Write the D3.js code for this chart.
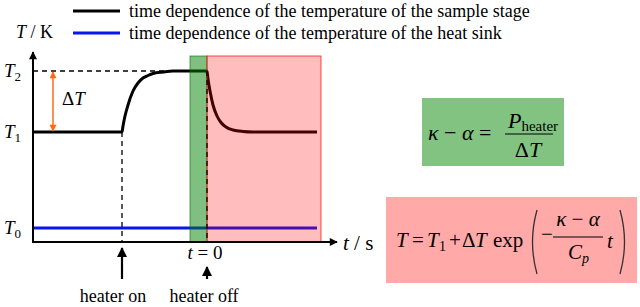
<!DOCTYPE html>
<html>
<head>
<meta charset="utf-8">
<script src="https://cdn.jsdelivr.net/npm/d3@7"></script>
<style>
  body { margin: 0; background: #fff; }
  .it { font-style: italic; }
</style>
</head>
<body>
<div id="chart"></div>
<script>
// Define SVG area dimensions
let svgWidth = 640;
let svgHeight = 307;

// Sample stage temperature (arbitrary units)
const stageTime = [0, 8.9, 9.0, 9.2, 9.5, 10.0, 10.5, 11.0, 11.5, 12.0, 13.0, 14.0, 17.4, 17.5, 17.7, 18.0, 18.4, 18.8, 19.3, 20.0, 21.0, 22.0, 28.4];
const stageTemp = [11.0, 11.0, 11.6, 12.6, 13.7, 15.1, 15.9, 16.4, 16.65, 16.85, 17.0, 17.1, 17.1, 16.3, 15.1, 13.7, 12.6, 11.95, 11.5, 11.2, 11.05, 11.0, 11.0];

// Heat sink temperature
const sinkTime = [0, 28.4];
const sinkTemp = [1.4, 1.4];

// Levels and events
const levelNames = ["T0", "T1", "T2"];
const levelValues = [1.4, 11.0, 17.1];
const eventNames = ["heater on", "heater off"];
const eventTimes = [8.9, 17.4];

// Shaded phases [start, end]
const greenPhase = [15.7, 17.4];
const pinkPhase = [17.4, 28.8];
const phaseTop = 18.6;

const legendLabels = [
  "time dependence of the temperature of the sample stage",
  "time dependence of the temperature of the heat sink"
];
const legendColors = ["#000", "#0a14f0"];

let svg = d3.select("#chart")
  .append("svg")
  .attr("width", svgWidth)
  .attr("height", svgHeight)
  .style("display", "block");

let defs = svg.append("defs");
function marker(id, color, w, h) {
  defs.append("marker")
    .attr("id", id)
    .attr("viewBox", "0 0 10 10")
    .attr("refX", 9).attr("refY", 5)
    .attr("markerUnits", "userSpaceOnUse")
    .attr("markerWidth", w).attr("markerHeight", h)
    .attr("orient", "auto-start-reverse")
    .append("path")
    .attr("d", "M0,0 L10,5 L0,10 z")
    .attr("fill", color);
}
marker("ax", "#000", 9, 8);
marker("ev", "#000", 12, 10);
marker("or", "#ff6a10", 8, 7);

// scales
let x = d3.scaleLinear().domain([0, 30.4]).range([33, 337]);
let y = d3.scaleLinear().domain([0, 19]).range([242, 52]);

let g = svg.append("g")
  .attr("font-family", "'Liberation Serif', 'DejaVu Serif', serif");

// legend
legendLabels.forEach((lab, i) => {
  let ly = 11 + i * 22;
  g.append("line")
    .attr("x1", 73).attr("x2", 120).attr("y1", ly).attr("y2", ly)
    .attr("stroke", legendColors[i]).attr("stroke-width", 3);
  g.append("text")
    .attr("x", 129).attr("y", ly + 6)
    .attr("font-size", 18)
    .text(lab);
});

// axis title T / K
let tk = g.append("text").attr("x", 16).attr("y", 38).attr("font-size", 18);
tk.append("tspan").attr("class", "it").text("T");
tk.append("tspan").text(" / K");

// dashed T2 line
g.append("line")
  .attr("x1", x(0)).attr("x2", x(eventTimes[1]))
  .attr("y1", y(levelValues[2])).attr("y2", y(levelValues[2]))
  .attr("stroke", "#000").attr("stroke-width", 1.3)
  .attr("stroke-dasharray", "5,4");

// dashed heater on line
g.append("line")
  .attr("x1", x(eventTimes[0])).attr("x2", x(eventTimes[0]))
  .attr("y1", y(levelValues[1])).attr("y2", y(0))
  .attr("stroke", "#000").attr("stroke-width", 1.3)
  .attr("stroke-dasharray", "5,4");

// curves
let line = d3.line()
  .x(d => x(d[0]))
  .y(d => y(d[1]))
  .curve(d3.curveMonotoneX);

g.append("path")
  .datum(sinkTime.map((t, i) => [t, sinkTemp[i]]))
  .attr("d", line)
  .attr("fill", "none")
  .attr("stroke", "#0a14f0")
  .attr("stroke-width", 3);

g.append("path")
  .datum(stageTime.map((t, i) => [t, stageTemp[i]]))
  .attr("d", line)
  .attr("fill", "none")
  .attr("stroke", "#000")
  .attr("stroke-width", 3);

// shaded phases
g.append("rect")
  .attr("x", x(greenPhase[0])).attr("y", y(phaseTop))
  .attr("width", x(greenPhase[1]) - x(greenPhase[0]))
  .attr("height", y(0) - y(phaseTop))
  .attr("fill", "rgba(0,128,0,0.5)")
  .attr("stroke", "rgba(0,110,0,0.6)").attr("stroke-width", 1);

g.append("rect")
  .attr("x", x(pinkPhase[0])).attr("y", y(phaseTop))
  .attr("width", x(pinkPhase[1]) - x(pinkPhase[0]))
  .attr("height", y(0) - y(phaseTop))
  .attr("fill", "rgba(255,0,0,0.26)")
  .attr("stroke", "rgba(255,0,0,0.7)").attr("stroke-width", 1);

// dashed heater off line
g.append("line")
  .attr("x1", x(eventTimes[1])).attr("x2", x(eventTimes[1]))
  .attr("y1", y(levelValues[2])).attr("y2", y(0))
  .attr("stroke", "#000").attr("stroke-width", 1.3)
  .attr("stroke-dasharray", "5,4");

// axes with arrows
g.append("line")
  .attr("x1", x(0)).attr("x2", x(0))
  .attr("y1", y(0) + 1).attr("y2", y(19))
  .attr("stroke", "#000").attr("stroke-width", 2)
  .attr("marker-end", "url(#ax)");
g.append("line")
  .attr("x1", x(0) - 1).attr("x2", x(30.4))
  .attr("y1", y(0)).attr("y2", y(0))
  .attr("stroke", "#000").attr("stroke-width", 2)
  .attr("marker-end", "url(#ax)");

// level labels
levelNames.forEach((name, i) => {
  let t = g.append("text")
    .attr("x", 4).attr("y", y(levelValues[i]) + 6)
    .attr("font-size", 19);
  t.append("tspan").attr("class", "it").text(name[0]);
  t.append("tspan").attr("font-size", 13).attr("dy", 4).text(name.slice(1));
});

// delta T arrow
g.append("line")
  .attr("x1", 53).attr("x2", 53)
  .attr("y1", y(levelValues[1]) - 1).attr("y2", y(levelValues[2]) + 1)
  .attr("stroke", "#ff6a10").attr("stroke-width", 1.5)
  .attr("marker-start", "url(#or)").attr("marker-end", "url(#or)");
let dT = g.append("text").attr("x", 62).attr("y", 105).attr("font-size", 19);
dT.append("tspan").text("Δ");
dT.append("tspan").attr("class", "it").text("T");

// t / s label
let ts = g.append("text").attr("x", 343).attr("y", 250).attr("font-size", 21);
ts.append("tspan").attr("class", "it").text("t");
ts.append("tspan").text(" / s");

// t = 0
let t0 = g.append("text").attr("x", x(eventTimes[1]) - 2).attr("y", 259)
  .attr("font-size", 19).attr("text-anchor", "middle");
t0.append("tspan").attr("class", "it").text("t");
t0.append("tspan").text(" = 0");

// event arrows and labels
const eventTips = [248, 267];
eventNames.forEach((name, i) => {
  let ex = x(eventTimes[i]);
  g.append("line")
    .attr("x1", ex).attr("x2", ex)
    .attr("y1", 279).attr("y2", eventTips[i])
    .attr("stroke", "#000").attr("stroke-width", 2.2)
    .attr("marker-end", "url(#ev)");
  g.append("text")
    .attr("x", ex + (i === 0 ? -9 : -3)).attr("y", 302)
    .attr("font-size", 18).attr("text-anchor", "middle")
    .text(name);
});

// green formula box
g.append("rect")
  .attr("x", 422).attr("y", 98).attr("width", 142).attr("height", 68)
  .attr("fill", "#82c382");
let f1 = g.append("text").attr("x", 428).attr("y", 140).attr("font-size", 22);
f1.append("tspan").attr("class", "it").text("κ");
f1.append("tspan").text(" − ");
f1.append("tspan").attr("class", "it").text("α");
f1.append("tspan").text(" =");
let num1 = g.append("text").attr("x", 508).attr("y", 128).attr("font-size", 22);
num1.append("tspan").attr("class", "it").text("P");
num1.append("tspan").attr("font-size", 15).attr("dy", 3).text("heater");
g.append("line").attr("x1", 505).attr("x2", 553).attr("y1", 134).attr("y2", 134)
  .attr("stroke", "#000").attr("stroke-width", 1);
let den1 = g.append("text").attr("x", 528).attr("y", 157).attr("font-size", 22)
  .attr("text-anchor", "middle");
den1.append("tspan").text("Δ");
den1.append("tspan").attr("class", "it").text("T");

// pink formula box
g.append("rect")
  .attr("x", 386).attr("y", 197).attr("width", 251).attr("height", 86)
  .attr("fill", "#ffa9a9");
// left side pieces: [text, x, italic, size, dy]
const f2Pieces = [
  ["T", 396, true, 21, 0],
  ["=", 412, false, 21, 0],
  ["T", 427, true, 21, 0],
  ["1", 439, false, 14, 4],
  ["+", 449, false, 21, 0],
  ["Δ", 462, false, 21, 0],
  ["T", 475, true, 21, 0],
  ["exp", 493, false, 21, 0]
];
f2Pieces.forEach(p => {
  g.append("text")
    .attr("x", p[1]).attr("y", 247 + p[4])
    .attr("font-size", p[3])
    .attr("font-style", p[2] ? "italic" : "normal")
    .text(p[0]);
});
// big parentheses
g.append("path").attr("d", "M537,210 Q528,242 537,274")
  .attr("fill", "none").attr("stroke", "#333").attr("stroke-width", 1.3);
g.append("path").attr("d", "M620,210 Q629,242 620,274")
  .attr("fill", "none").attr("stroke", "#333").attr("stroke-width", 1.3);
g.append("text").attr("x", 541).attr("y", 241).attr("font-size", 21).text("−");
let num2 = g.append("text").attr("x", 578).attr("y", 226).attr("font-size", 21)
  .attr("text-anchor", "middle");
num2.append("tspan").attr("class", "it").text("κ");
num2.append("tspan").text(" − ");
num2.append("tspan").attr("class", "it").text("α");
g.append("line").attr("x1", 553).attr("x2", 603).attr("y1", 237).attr("y2", 237)
  .attr("stroke", "#000").attr("stroke-width", 1);
let den2 = g.append("text").attr("x", 568).attr("y", 259).attr("font-size", 21);
den2.append("tspan").attr("class", "it").text("C");
den2.append("tspan").attr("class", "it").attr("font-size", 14).attr("dy", 4).text("p");
g.append("text").attr("x", 607).attr("y", 248).attr("font-size", 21)
  .attr("class", "it").text("t");
</script>
</body>
</html>
